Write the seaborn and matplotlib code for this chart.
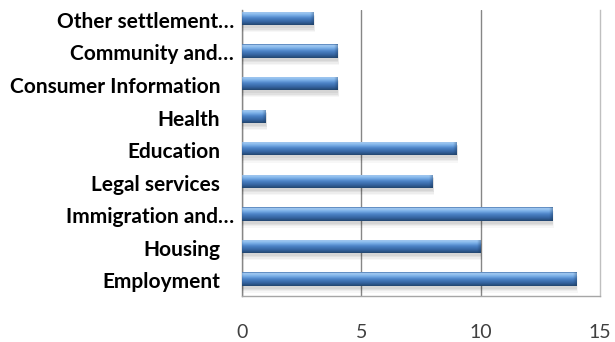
import numpy as np
import pandas as pd
import matplotlib
matplotlib.use("Agg")
import matplotlib.pyplot as plt
import seaborn as sns
from matplotlib.colors import LinearSegmentedColormap, to_rgb
from matplotlib.patches import Rectangle

categories = ["Other settlement\u2026", "Community and\u2026", "Consumer Information",
              "Health", "Education", "Legal services", "Immigration and\u2026",
              "Housing", "Employment"]
counts = [3, 4, 4, 1, 9, 8, 13, 10, 14]
xticks = [0, 5, 10, 15]

sns.set_style("white")
plt.rcParams["font.family"] = ["Lato", "DejaVu Sans"]

W, H = 615, 342
fig = plt.figure(figsize=(W / 100, H / 100), dpi=100)
ax = fig.add_axes([242 / W, 46 / H, 358 / W, 286 / H])

df = pd.DataFrame({"category": categories, "count": counts})
sns.barplot(data=df, x="count", y="category", orient="h", color="#4f81bd",
            width=0.41, ax=ax, zorder=3)

xlim = (0, 15)
ylim = (8.523, -0.261)
ax.set_xlim(*xlim)
ax.set_ylim(*ylim)

# pixel sizes in data units
px_x = (xlim[1] - xlim[0]) / 358
px_y = (ylim[0] - ylim[1]) / 286

# vertical shading of the cylinder-like bars
stops = [(0.0, "#3d6da8"), (0.08, "#a8cef4"), (0.28, "#7cb0e8"),
         (0.5, "#4c83c7"), (0.78, "#34639f"), (1.0, "#22466f")]
cmap = LinearSegmentedColormap.from_list("bar", stops)

for p in list(ax.patches):
    x0, y0 = p.get_x(), p.get_y()
    w, h = p.get_width(), p.get_height()
    # soft drop shadow under each bar
    for k, a in enumerate([0.05, 0.05, 0.04, 0.03]):
        ax.add_patch(Rectangle((x0 - px_x * k * 0.3, y0 + px_y * (2 + k * 0.6)),
                               w + px_x * (0.5 + k * 0.6), h + px_y * (1 + k * 0.8),
                               facecolor="black", alpha=a, lw=0, zorder=2))
    rows = 60
    cols = max(int(w / px_x * 3), 6)
    prof = cmap(np.linspace(0, 1, rows))[:, :3]
    img = np.repeat(prof[:, None, :], cols, axis=1)
    # bevelled ends
    xs = np.arange(cols) / 3.0
    dist_r = (cols / 3.0) - xs
    ts = np.linspace(0, 1, rows)[:, None]
    bev_r = np.clip((4.0 - dist_r[None, :]) / 4.0, 0, 1) * (0.35 + 0.25 * ts)
    bev_l = np.clip((1.5 - xs[None, :]) / 1.5, 0, 1) * 0.2
    dark = np.array(to_rgb("#1f3e63"))
    f = np.clip(bev_r + bev_l, 0, 0.7)[..., None]
    img = img * (1 - f) + dark * f
    im = ax.imshow(img, extent=(x0, x0 + w, y0 + h, y0), origin="upper",
                   aspect="auto", interpolation="bilinear", zorder=3)
    im.set_clip_path(p)
    p.set_facecolor("none")
    p.set_edgecolor("none")

ax.set_xlim(*xlim)
ax.set_ylim(*ylim)

ax.set_xticks(xticks)
ax.set_xticklabels([str(t) for t in xticks])
ax.tick_params(axis="x", length=0, pad=20, labelsize=14, labelcolor="#404040")
ax.set_yticks(range(len(categories)))
ax.set_yticklabels([])
ax.tick_params(axis="y", length=0)
ax.set_xlabel("")
ax.set_ylabel("")

ax.xaxis.grid(True, color="#868686", lw=1)
ax.set_axisbelow(True)
gl = ax.xaxis.get_gridlines()
gl[-1].set_visible(False)

ax.spines["top"].set_visible(False)
ax.spines["left"].set_color("#868686")
ax.spines["bottom"].set_color("#a6a6a6")
ax.spines["right"].set_color("#bfbfbf")
for s in ["left", "bottom", "right"]:
    ax.spines[s].set_linewidth(1)
    ax.spines[s].set_zorder(1)

for i, label in enumerate(categories):
    gap = 5.8 if label.endswith("\u2026") else 15.8
    ax.annotate(label, xy=(0, i), xycoords=("axes fraction", "data"),
                xytext=(-gap, -1), textcoords="offset points",
                ha="right", va="center_baseline", fontsize=15,
                fontweight="bold", color="#000000")

fig.savefig("out.png", dpi=100)
